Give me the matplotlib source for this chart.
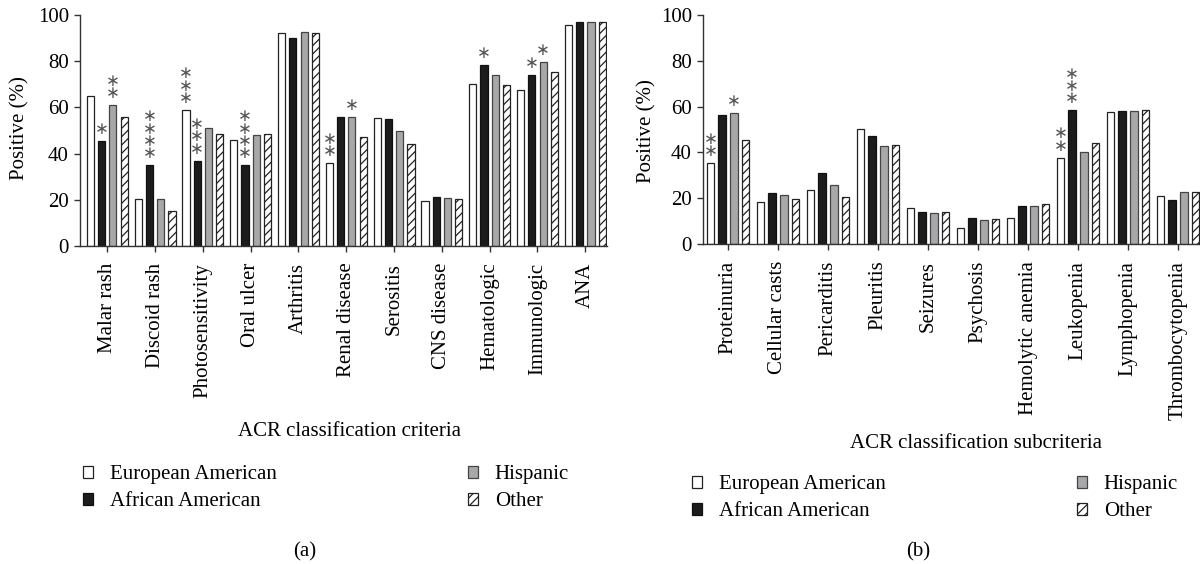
import numpy as np
import matplotlib.pyplot as plt
from matplotlib.patches import Patch

plt.rcParams['font.family'] = ['Liberation Serif', 'DejaVu Serif']
plt.rcParams['hatch.linewidth'] = 0.9

# Dados
groups = ["European American", "African American", "Hispanic", "Other"]

criteria = ["Malar rash", "Discoid rash", "Photosensitivity", "Oral ulcer",
            "Arthritis", "Renal disease", "Serositis", "CNS disease",
            "Hematologic", "Immunologic", "ANA"]
crit_ea = [65, 20.5, 59, 46, 92, 36, 55.5, 19.5, 70, 67.5, 95.5]
crit_aa = [45.5, 35, 37, 35, 90, 55.7, 55, 21.4, 78.4, 74.2, 96.8]
crit_hi = [61, 20.5, 51, 48, 92.6, 56, 50, 20.8, 74, 79.8, 96.8]
crit_ot = [56, 15.2, 48.3, 48.3, 92.2, 47.3, 44, 20.5, 69.8, 75.2, 96.8]
# (categoria, grupo, numero de asteriscos)
crit_stars = [(0, 1, 1), (0, 2, 2), (1, 1, 4), (2, 0, 3), (2, 1, 3),
              (3, 1, 4), (5, 0, 2), (5, 2, 1), (8, 1, 1), (9, 1, 1), (9, 2, 1)]

subcriteria = ["Proteinuria", "Cellular casts", "Pericarditis", "Pleuritis",
               "Seizures", "Psychosis", "Hemolytic anemia", "Leukopenia",
               "Lymphopenia", "Thrombocytopenia"]
sub_ea = [35.4, 18.3, 23.7, 50.3, 15.9, 7, 11.2, 37.7, 57.5, 21.1]
sub_aa = [56.2, 22.3, 30.8, 47, 13.8, 11.2, 16.6, 58.4, 57.9, 19]
sub_hi = [57.1, 21.3, 25.7, 43, 13.4, 10.3, 16.6, 40.3, 57.9, 22.9]
sub_ot = [45.3, 19.6, 20.5, 43.3, 14.1, 10.9, 17.3, 44.3, 58.3, 22.9]
sub_stars = [(0, 0, 2), (0, 2, 1), (7, 0, 2), (7, 1, 3)]

faces = ["white", "#1c1c1c", "#a8a8aa", "white"]
edges = ["#222222", "#111111", "#444444", "#222222"]
hatches = [None, None, None, "////"]

FS = 15
step = 0.235
width = 0.15


def painel(ax, cats, series, stars, xlim):
    x = np.arange(len(cats))
    for k, vals in enumerate(series):
        ax.bar(x + (k - 1.5) * step, vals, width, color=faces[k],
               edgecolor=edges[k], linewidth=0.9, hatch=hatches[k])
    # asteriscos empilhados num unico texto
    for c, g, n in stars:
        xs = c + (g - 1.5) * step
        ax.annotate("\n".join(["∗"] * n), xy=(xs, series[g][c]), xytext=(0, 2),
                    textcoords="offset points", ha="center", va="bottom",
                    fontsize=12, color="#555555", family="DejaVu Sans",
                    linespacing=0.6)
    ax.set_xlim(*xlim)
    ax.set_ylim(0, 100)
    ax.set_yticks([0, 20, 40, 60, 80, 100])
    ax.set_xticks(x)
    ax.set_xticklabels(cats, rotation=90, fontsize=FS)
    ax.tick_params(axis="y", labelsize=FS, length=4, width=1, color="#333333", pad=4)
    ax.tick_params(axis="x", length=4, width=1, color="#333333", pad=8)
    for s in ["top", "right"]:
        ax.spines[s].set_visible(False)
    for s in ["left", "bottom"]:
        ax.spines[s].set_color("#333333")
        ax.spines[s].set_linewidth(1)


fig = plt.figure(figsize=(12, 5.64), dpi=100)

W, H = 1200, 564
ax1 = fig.add_axes([80 / W, 1 - 246 / H, 527 / W, 231 / H])
ax2 = fig.add_axes([703 / W, 1 - 244 / H, 497 / W, 229 / H])

painel(ax1, criteria, [crit_ea, crit_aa, crit_hi, crit_ot], crit_stars, (-0.571, 10.454))
painel(ax2, subcriteria, [sub_ea, sub_aa, sub_hi, sub_ot], sub_stars, (-0.5, 9.44))

fig.text(20 / W, 1 - 128 / H, "Positive (%)", rotation=90, ha="center", va="center", fontsize=FS)
fig.text(647 / W, 1 - 131 / H, "Positive (%)", rotation=90, ha="center", va="center", fontsize=FS)
fig.text(350 / W, 1 - 432 / H, "ACR classification criteria", ha="center", va="center", fontsize=FS)
fig.text(976 / W, 1 - 443 / H, "ACR classification subcriteria", ha="center", va="center", fontsize=FS)
fig.text(305 / W, 1 - 552 / H, "(a)", ha="center", va="center", fontsize=FS)
fig.text(918 / W, 1 - 552 / H, "(b)", ha="center", va="center", fontsize=FS)

handles = [Patch(facecolor=faces[k], edgecolor=edges[k], hatch=hatches[k], linewidth=0.9)
           for k in range(4)]
for xa, ya in [(83, 465), (692, 475)]:
    fig.legend(handles, groups, loc="upper left", bbox_to_anchor=(xa / W, 1 - ya / H),
               ncol=2, frameon=False, fontsize=FS, borderpad=0, borderaxespad=0,
               handlelength=0.5, handleheight=0.5, handletextpad=0.8,
               columnspacing=9.15, labelspacing=0.4)

fig.savefig("out.png", dpi=100)
